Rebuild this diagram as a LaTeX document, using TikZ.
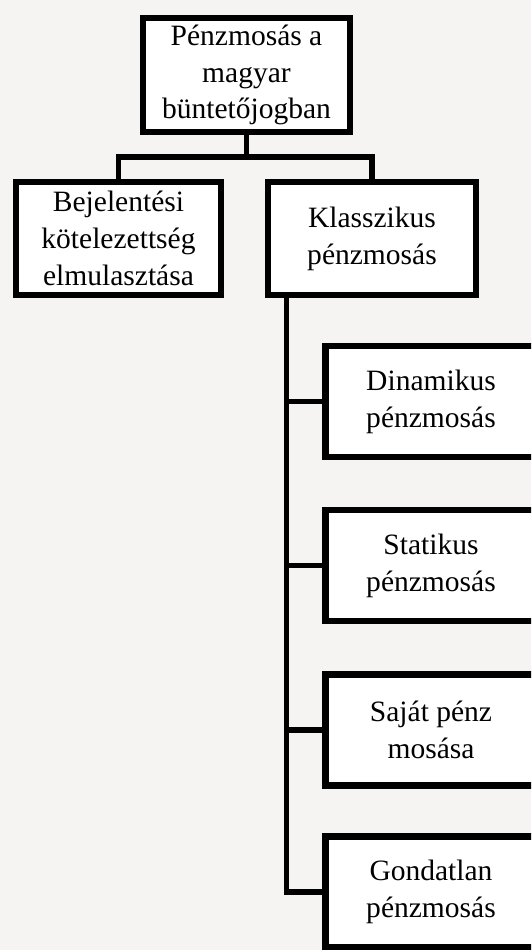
\documentclass[tikz,border=0pt]{standalone}
\usepackage{fontspec}
\setmainfont{Liberation Serif}
\usetikzlibrary{positioning}
\definecolor{paper}{HTML}{F5F4F2}

\begin{document}
\begin{tikzpicture}[
    x=0.02cm, y=-0.02cm,
    every node/.style={font=\fontsize{16.8}{21}\selectfont},
    box/.style={draw=black, fill=white, line width=3.7pt, align=center,
        inner sep=0pt, minimum height=2.22cm},
    link/.style={draw=black, line width=3.1pt, line join=miter},
]

\def\kid{4.23cm}

% the sheet
\fill[paper] (0,0) rectangle (531,950);
\useasboundingbox (0,0) rectangle (531,950);
\clip (0,0) rectangle (531,950);

% top level
\node[box, minimum width=4.14cm, minimum height=2.28cm] (penzmosas) at (246.5,75)
    {Pénzmosás a\\magyar\\büntetőjogban};

% second level
\node[box, minimum width=4.10cm, minimum height=2.26cm] (bejelentes) at (118.5,238.5)
    {Bejelentési\\kötelezettség\\elmulasztása};
\node[box, minimum width=4.16cm, minimum height=2.26cm] (klasszikus) at (372,238.5)
    {Klasszikus\\pénzmosás};

% the kinds of classical laundering
\node[box, minimum width=\kid] (dinamikus) at (431,401.5) {Dinamikus\\pénzmosás};
\node[box, minimum width=\kid] (statikus)  at (431,565.5) {Statikus\\pénzmosás};
\node[box, minimum width=\kid] (sajat)     at (431,730)   {Saját pénz\\mosása};
\node[box, minimum width=\kid] (gondatlan) at (431,892)   {Gondatlan\\pénzmosás};

% fork under the top box
\coordinate (fork) at (246.5,157);
\draw[link] (penzmosas.south) -- (fork);
\draw[link] (bejelentes.north) |- (fork) -| (klasszikus.north);

% trunk down the left side of the children
\foreach \n in {dinamikus, statikus, sajat, gondatlan}{
    \draw[link] ([xshift=0.44cm]klasszikus.south west) |- (\n.west);
}

\end{tikzpicture}
\end{document}
